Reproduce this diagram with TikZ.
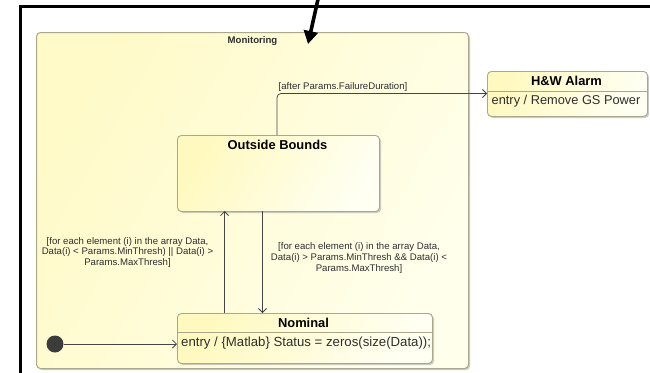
\documentclass[tikz,border=0pt]{standalone}
\usepackage{fontspec}
\setmainfont{Liberation Sans}
\usetikzlibrary{arrows.meta,shadows,calc}

\definecolor{stateTop}{HTML}{FFF9C0}
\definecolor{stateBot}{HTML}{FFFFF2}
\definecolor{regionTop}{HTML}{FFFAC8}
\definecolor{regionBot}{HTML}{FFFFEC}
\definecolor{stateEdge}{HTML}{A9A88A}
\definecolor{wireGrey}{HTML}{454545}
\definecolor{textGrey}{HTML}{2E2E2E}
\definecolor{dotGrey}{HTML}{3C3C3C}

\tikzset{
  region/.style={draw=stateEdge, line width=1pt, rounded corners=4pt,
    left color=regionTop, right color=regionBot, shading angle=60,
    anchor=north west, inner sep=0pt,
    drop shadow={shadow xshift=1.6pt, shadow yshift=-1.6pt, fill=black!40, opacity=0.5}},
  statebox/.style={draw=stateEdge, line width=0.9pt, rounded corners=4pt,
    left color=stateTop, right color=stateBot, shading angle=60,
    anchor=north west, inner sep=0pt,
    drop shadow={shadow xshift=1.6pt, shadow yshift=-1.6pt, fill=black!40, opacity=0.5}},
  sep/.style={draw=stateEdge, line width=0.8pt},
  title/.style={font=\fontsize{12.9}{14}\selectfont\bfseries, text=black, inner sep=0pt},
  body/.style={text=textGrey, inner sep=0pt, anchor=west},
  guard/.style={font=\fontsize{9.6}{10.6}\selectfont, text=textGrey, inner sep=0pt, align=center},
  wire/.style={draw=wireGrey, line width=0.75pt, -{Straight Barb[length=4pt,width=8pt,line width=0.75pt]}},
}

\begin{document}
\begin{tikzpicture}[x=1pt,y=-1pt]
  \useasboundingbox (0,0) rectangle (650,372);
  \fill[white] (0,0) rectangle (650,372);
  \begin{scope}
    \clip (0,0) rectangle (650,372);

    % outer diagram frame
    \draw[black, line width=2.4pt] (20.5,380) -- (20.5,6.5) -- (660,6.5);

    % composite state region
    \node[region, minimum width=432pt, minimum height=336pt] (mon) at (36,32) {};
    \node[font=\fontsize{9.6}{11}\selectfont\bfseries, text=textGrey, inner sep=0pt] (monlbl) at (252.5,41.5) {Monitoring};

    % Outside Bounds state
    \node[statebox, minimum width=202pt, minimum height=76pt] (ob) at (177,135) {};
    \node[title] (obt) at (277.5,144.5) {Outside Bounds};

    % Nominal state
    \node[statebox, minimum width=255pt, minimum height=50pt] (nom) at (177,313) {};
    \node[title] (nomt) at (303.5,322.5) {Nominal};
    \coordinate (nomsepL) at (177,332.5);
    \coordinate (nomsepR) at (432,332.5);
    \draw[sep] (nomsepL) -- (nomsepR);
    \node[body, font=\fontsize{13.2}{15}\selectfont] (nomb) at (181,343.5) {entry / \{Matlab\} Status = zeros(size(Data));};

    % H&W Alarm state
    \node[statebox, minimum width=160pt, minimum height=45pt] (alarm) at (487,71) {};
    \node[title] (alarmt) at (566.5,81) {H\&W Alarm};
    \coordinate (alsepL) at (487,91);
    \coordinate (alsepR) at (647,91);
    \draw[sep] (alsepL) -- (alsepR);
    \node[body, font=\fontsize{12.8}{15}\selectfont] (alarmb) at (491.5,101.5) {entry / Remove GS Power};

    % initial pseudostate
    \node[circle, fill=dotGrey, minimum size=17pt, inner sep=0pt] (init) at (55,344) {};

    % transitions
    \coordinate (obTop) at (277,135);
    \coordinate (alIn) at (487,93.5);
    \draw[wire, rounded corners=4pt] (obTop) |- (alIn);
    \node[guard, anchor=south west] (g1) at (278.5,92) {[after Params.FailureDuration]};

    \coordinate (upFrom) at (224.5,313);
    \coordinate (upTo) at (224.5,211);
    \draw[wire] (upFrom) -- (upTo);
    \coordinate (dnFrom) at (262.5,211);
    \coordinate (dnTo) at (262.5,313);
    \draw[wire] (dnFrom) -- (dnTo);

    \node[guard] (g2) at (127.5,252.5) {[for each element (i) in the array Data,\\Data(i) < Params.MinThresh) || Data(i) >\\Params.MaxThresh]};
    \node[guard] (g3) at (359,258) {[for each element (i) in the array Data,\\Data(i) > Params.MinThresh \&\& Data(i) <\\Params.MaxThresh]};

    \coordinate (nomIn) at (177,344);
    \draw[wire] (init) -- (nomIn);

    % pointer arrow onto the region
    \coordinate (ptrFrom) at (318.5,-3);
    \coordinate (ptrTo) at (308,44);
    \draw[black, line width=3.6pt, -{Triangle[length=13pt,width=14pt]}] (ptrFrom) -- (ptrTo);
  \end{scope}
\end{tikzpicture}
\end{document}
